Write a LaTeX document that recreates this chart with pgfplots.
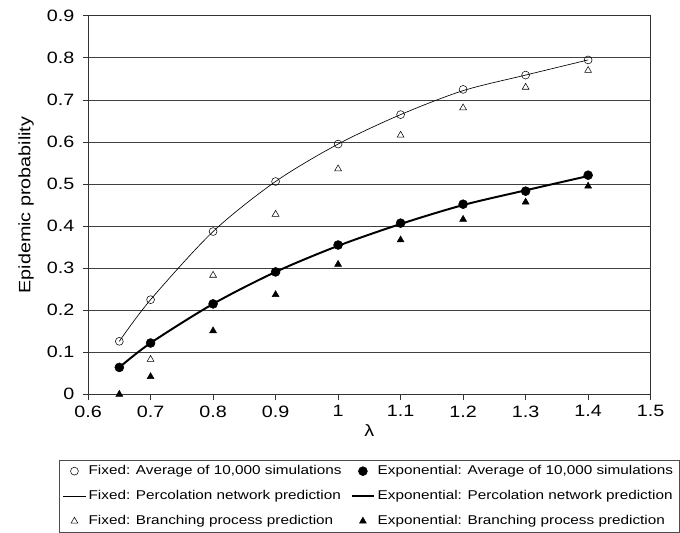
\documentclass[border=0pt]{standalone}
\usepackage{fontspec}
\setmainfont[FakeStretch=1.2]{Liberation Sans}
\usepackage{pgfplots}
\pgfplotsset{compat=1.18}

\begin{document}
\begin{tikzpicture}
\begin{axis}[
  name=main,
  scale only axis,
  width=428pt, height=288pt,
  xmin=0.6, xmax=1.5, ymin=0, ymax=0.9,
  xtick={0.6,0.7,...,1.5},
  ytick={0,0.1,...,0.9},
  /pgf/number format/assume math mode=true,
  ticklabel style={font=\fontsize{12.5}{14}\selectfont},
  xticklabel style={yshift=-1pt},
  yticklabel style={xshift=-3pt},
  tick align=outside,
  major tick length=4pt,
  xtick pos=bottom, ytick pos=left,
  ymajorgrids,
  major grid style={black!75, line width=0.6pt},
  axis line style={black!80, line width=0.8pt},
  tick style={black!80, line width=0.6pt},
  xlabel={λ},
  ylabel={Epidemic probability},
  label style={font=\fontsize{12.5}{14}\selectfont},
  xlabel style={yshift=1pt},
  ylabel style={yshift=3pt},
  legend columns=2,
  legend style={at={(0.5,0)}, yshift=-50pt, anchor=north, draw=black!70,
    font=\fontsize{9.7}{11.5}\selectfont, row sep=6.5pt,
    /tikz/every even column/.append style={column sep=5pt}},
  legend cell align=left,
]
\addplot[only marks, mark=o, mark size=3pt, black] coordinates {
  (0.65,0.126) (0.7,0.225) (0.8,0.387) (0.9,0.506) (1.0,0.595)
  (1.1,0.665) (1.2,0.725) (1.3,0.759) (1.4,0.795)};
\addlegendentry{Fixed: Average of 10,000 simulations}
\addplot[only marks, mark=*, mark size=3.4pt, black] coordinates {
  (0.65,0.064) (0.7,0.122) (0.8,0.215) (0.9,0.291) (1.0,0.355)
  (1.1,0.407) (1.2,0.452) (1.3,0.483) (1.4,0.521)};
\addlegendentry{Exponential: Average of 10,000 simulations}
\addplot[smooth, black, line width=0.5pt, no marks] coordinates {
  (0.65,0.126) (0.7,0.225) (0.8,0.387) (0.9,0.506) (1.0,0.595)
  (1.1,0.665) (1.2,0.722) (1.3,0.759) (1.4,0.795)};
\addlegendentry{Fixed: Percolation network prediction}
\addplot[smooth, black, line width=1.5pt, no marks] coordinates {
  (0.65,0.064) (0.7,0.122) (0.8,0.215) (0.9,0.291) (1.0,0.353)
  (1.1,0.405) (1.2,0.450) (1.3,0.485) (1.4,0.519)};
\addlegendentry{Exponential: Percolation network prediction}
\addplot[only marks, mark=triangle, mark size=3pt, black] coordinates {
  (0.7,0.083) (0.8,0.283) (0.9,0.428) (1.0,0.536)
  (1.1,0.616) (1.2,0.681) (1.3,0.730) (1.4,0.770)};
\addlegendentry{Fixed: Branching process prediction}
\addplot[only marks, mark=triangle*, mark size=3pt, black] coordinates {
  (0.65,0.0) (0.7,0.042) (0.8,0.151) (0.9,0.237) (1.0,0.309)
  (1.1,0.367) (1.2,0.416) (1.3,0.457) (1.4,0.495)};
\addlegendentry{Exponential: Branching process prediction}
\end{axis}
\useasboundingbox ([xshift=-67pt,yshift=-103pt]main.south west) rectangle ([xshift=15pt,yshift=12pt]main.north east);
\end{tikzpicture}
\end{document}
